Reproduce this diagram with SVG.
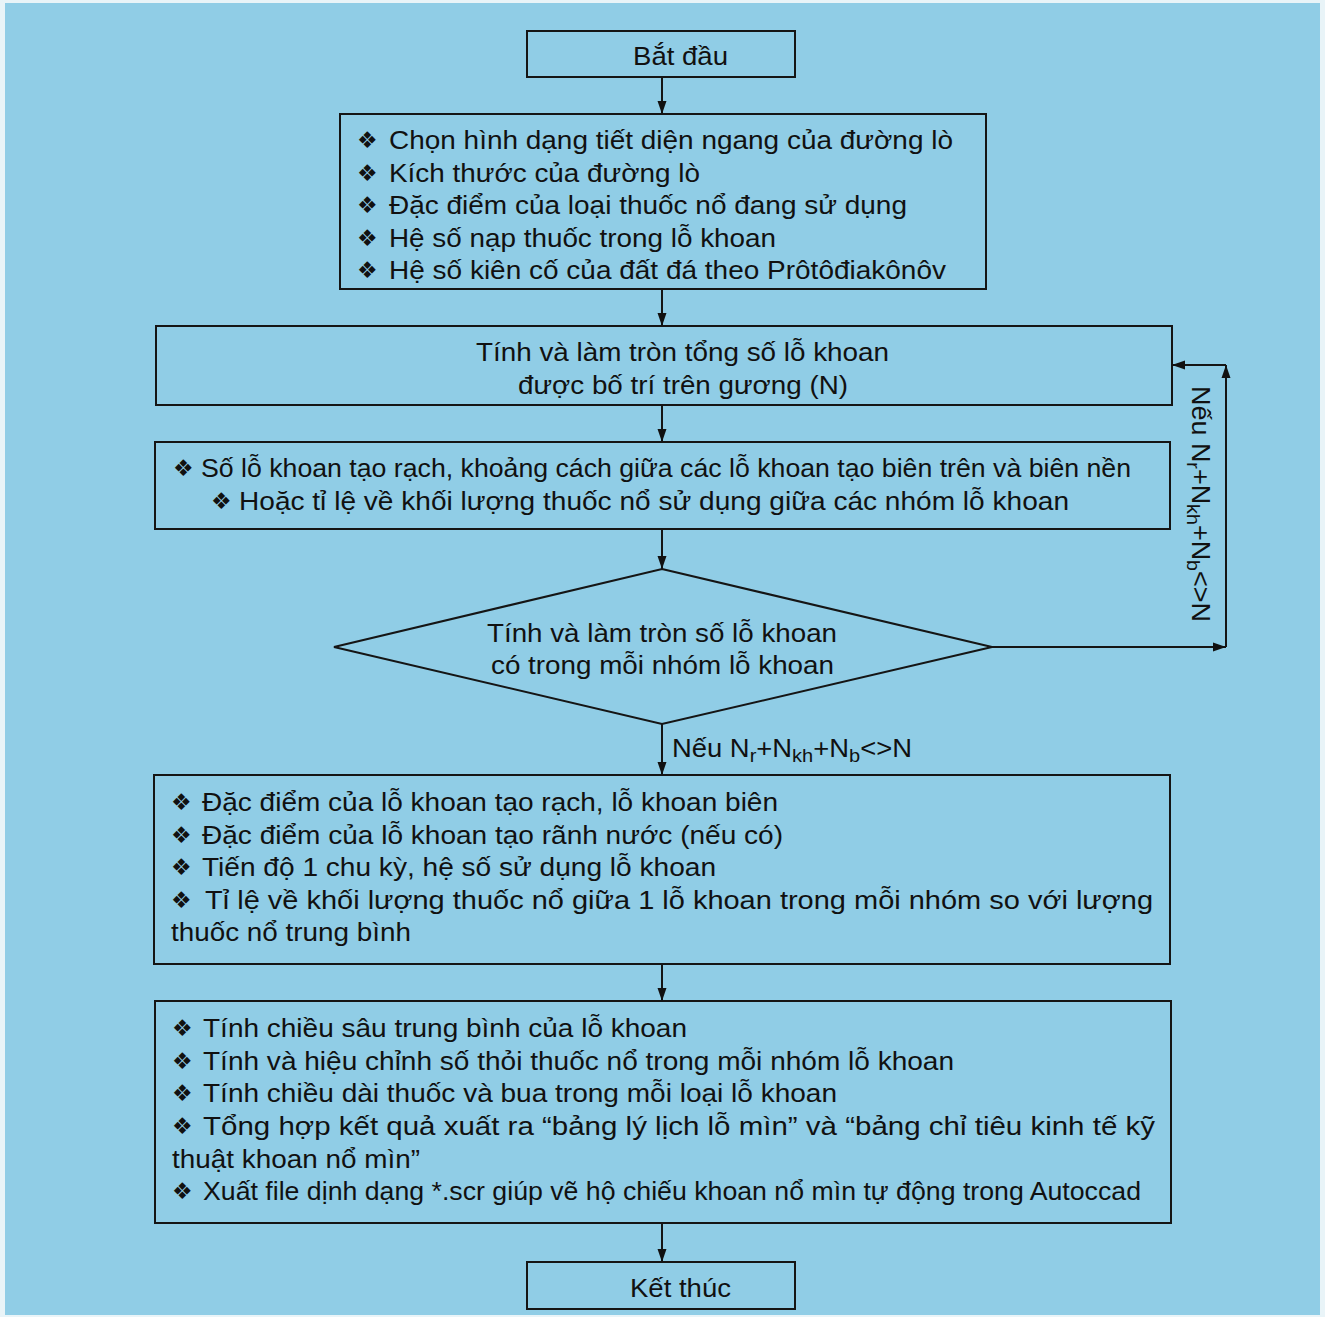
<svg xmlns="http://www.w3.org/2000/svg" width="1325" height="1317" viewBox="0 0 1325 1317">
<defs>
<marker id="ah" markerUnits="userSpaceOnUse" markerWidth="14" markerHeight="10" refX="13" refY="5" orient="auto">
<path d="M0,0.5 L13,5 L0,9.5 z" fill="#111"/>
</marker>
<style>
.box{fill:none;stroke:#151515;stroke-width:2}
.ln{stroke:#151515;stroke-width:2;fill:none;marker-end:url(#ah)}
.t{font-family:"Liberation Sans",Arial,sans-serif;font-size:26px;fill:#111}
.c{text-anchor:middle}
.b{font-family:"DejaVu Sans",sans-serif;font-size:23px;fill:#111}
.s{font-size:19px}
</style>
</defs>
<rect x="0" y="0" width="1325" height="1317" fill="#e9f4f8"/>
<rect x="5" y="3" width="1315" height="1312" fill="#90cde6"/>

<g id="start">
<rect class="box" x="527" y="31" width="268" height="46"/>
<text class="t" x="633" y="65" font-size="28" textLength="95" lengthAdjust="spacingAndGlyphs">Bắt đầu</text>
</g>

<g id="inputs">
<rect class="box" x="340" y="114" width="646" height="175"/>
<text class="b" x="357" y="148">❖</text><text class="t" x="389" y="149" textLength="564" lengthAdjust="spacingAndGlyphs">Chọn hình dạng tiết diện ngang của đường lò</text>
<text class="b" x="357" y="181">❖</text><text class="t" x="389" y="182" textLength="311" lengthAdjust="spacingAndGlyphs">Kích thước của đường lò</text>
<text class="b" x="357" y="213">❖</text><text class="t" x="389" y="214" textLength="518" lengthAdjust="spacingAndGlyphs">Đặc điểm của loại thuốc nổ đang sử dụng</text>
<text class="b" x="357" y="246">❖</text><text class="t" x="389" y="247" textLength="387" lengthAdjust="spacingAndGlyphs">Hệ số nạp thuốc trong lỗ khoan</text>
<text class="b" x="357" y="278">❖</text><text class="t" x="389" y="279" textLength="557" lengthAdjust="spacingAndGlyphs">Hệ số kiên cố của đất đá theo Prôtôđiakônôv</text>
</g>

<g id="total">
<rect class="box" x="156" y="326" width="1016" height="79"/>
<text class="t" x="476" y="361" textLength="413" lengthAdjust="spacingAndGlyphs">Tính và làm tròn tổng số lỗ khoan</text>
<text class="t" x="518" y="394" textLength="330" lengthAdjust="spacingAndGlyphs">được bố trí trên gương (N)</text>
</g>

<g id="ratio">
<rect class="box" x="155" y="442" width="1015" height="87"/>
<text class="b" x="173" y="476">❖</text><text class="t" x="201" y="477" textLength="930" lengthAdjust="spacingAndGlyphs">Số lỗ khoan tạo rạch, khoảng cách giữa các lỗ khoan tạo biên trên và biên nền</text>
<text class="b" x="211" y="509">❖</text><text class="t" x="239" y="510" textLength="830" lengthAdjust="spacingAndGlyphs">Hoặc tỉ lệ về khối lượng thuốc nổ sử dụng giữa các nhóm lỗ khoan</text>
</g>

<g id="decision">
<polygon class="box" points="662,569 992,647 662,724 334,647"/>
<text class="t" x="487" y="642" textLength="350" lengthAdjust="spacingAndGlyphs">Tính và làm tròn số lỗ khoan</text>
<text class="t" x="491" y="674" textLength="343" lengthAdjust="spacingAndGlyphs">có trong mỗi nhóm lỗ khoan</text>
</g>

<g id="features">
<rect class="box" x="154" y="775" width="1016" height="189"/>
<text class="b" x="171" y="810">❖</text><text class="t" x="202" y="811" textLength="576" lengthAdjust="spacingAndGlyphs">Đặc điểm của lỗ khoan tạo rạch, lỗ khoan biên</text>
<text class="b" x="171" y="843">❖</text><text class="t" x="202" y="844" textLength="581" lengthAdjust="spacingAndGlyphs">Đặc điểm của lỗ khoan tạo rãnh nước (nếu có)</text>
<text class="b" x="171" y="875">❖</text><text class="t" x="202" y="876" textLength="514" lengthAdjust="spacingAndGlyphs">Tiến độ 1 chu kỳ, hệ số sử dụng lỗ khoan</text>
<text class="b" x="171" y="908">❖</text><text class="t" x="205" y="909" textLength="948" lengthAdjust="spacingAndGlyphs">Tỉ lệ về khối lượng thuốc nổ giữa 1 lỗ khoan trong mỗi nhóm so với lượng</text>
<text class="t" x="171" y="941" textLength="240" lengthAdjust="spacingAndGlyphs">thuốc nổ trung bình</text>
</g>

<g id="compute">
<rect class="box" x="155" y="1001" width="1016" height="222"/>
<text class="b" x="172" y="1036">❖</text><text class="t" x="203" y="1037" textLength="484" lengthAdjust="spacingAndGlyphs">Tính chiều sâu trung bình của lỗ khoan</text>
<text class="b" x="172" y="1069">❖</text><text class="t" x="203" y="1070" textLength="751" lengthAdjust="spacingAndGlyphs">Tính và hiệu chỉnh số thỏi thuốc nổ trong mỗi nhóm lỗ khoan</text>
<text class="b" x="172" y="1101">❖</text><text class="t" x="203" y="1102" textLength="634" lengthAdjust="spacingAndGlyphs">Tính chiều dài thuốc và bua trong mỗi loại lỗ khoan</text>
<text class="b" x="172" y="1134">❖</text><text class="t" x="203" y="1135" textLength="952" lengthAdjust="spacingAndGlyphs">Tổng hợp kết quả xuất ra “bảng lý lịch lỗ mìn” và “bảng chỉ tiêu kinh tế kỹ</text>
<text class="t" x="172" y="1168" textLength="248" lengthAdjust="spacingAndGlyphs">thuật khoan nổ mìn”</text>
<text class="b" x="172" y="1199">❖</text><text class="t" x="203" y="1200" textLength="938" lengthAdjust="spacingAndGlyphs">Xuất file dịnh dạng *.scr giúp vẽ hộ chiếu khoan nổ mìn tự động trong Autoccad</text>
</g>

<g id="end">
<rect class="box" x="527" y="1262" width="268" height="47"/>
<text class="t" x="630" y="1297" font-size="28" textLength="101" lengthAdjust="spacingAndGlyphs">Kết thúc</text>
</g>

<g id="connectors">
<line class="ln" x1="662" y1="77" x2="662" y2="114"/>
<line class="ln" x1="662" y1="289" x2="662" y2="326"/>
<line class="ln" x1="662" y1="405" x2="662" y2="442"/>
<line class="ln" x1="662" y1="529" x2="662" y2="569"/>
<line class="ln" x1="662" y1="724" x2="662" y2="775"/>
<line class="ln" x1="662" y1="964" x2="662" y2="1001"/>
<line class="ln" x1="662" y1="1223" x2="662" y2="1262"/>
<line class="ln" x1="992" y1="647" x2="1226" y2="647"/>
<line class="ln" x1="1226" y1="647" x2="1226" y2="365"/>
<line class="ln" x1="1226" y1="365" x2="1172" y2="365"/>
<text class="t" x="672" y="757" textLength="240" lengthAdjust="spacingAndGlyphs">Nếu N<tspan class="s" dy="5">r</tspan><tspan dy="-5">+N</tspan><tspan class="s" dy="5">kh</tspan><tspan dy="-5">+N</tspan><tspan class="s" dy="5">b</tspan><tspan dy="-5">&lt;&gt;N</tspan></text>
<text class="t" transform="translate(1192,386) rotate(90)" textLength="236" lengthAdjust="spacingAndGlyphs">Nếu N<tspan class="s" dy="5">r</tspan><tspan dy="-5">+N</tspan><tspan class="s" dy="5">kh</tspan><tspan dy="-5">+N</tspan><tspan class="s" dy="5">b</tspan><tspan dy="-5">&lt;&gt;N</tspan></text>
</g>
</svg>
